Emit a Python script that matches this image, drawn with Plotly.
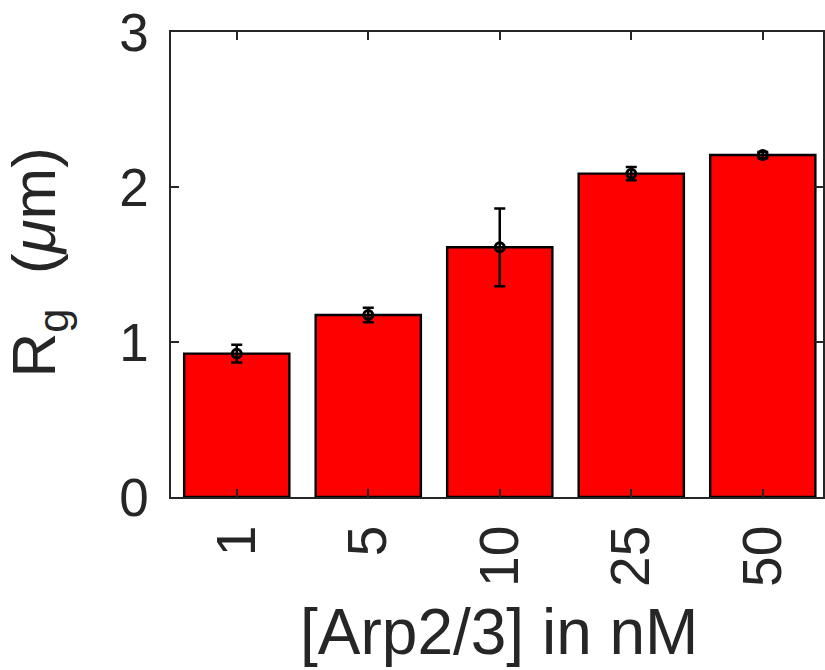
import plotly.graph_objects as go

# Arp2/3 concentration (nM) and radius of gyration (µm) with error
conc_labels = ["1", "5", "10", "25", "50"]
positions = [1, 2, 3, 4, 5]
rg_mean = [0.925, 1.174, 1.611, 2.086, 2.206]
rg_err = [0.058, 0.047, 0.251, 0.043, 0.02]

ink = "#262626"
font_family = "Liberation Sans, Arial, sans-serif"

fig = go.Figure()

fig.add_trace(go.Bar(
    x=positions,
    y=rg_mean,
    width=0.8,
    marker=dict(color="#ff0000", line=dict(color="black", width=2.4)),
    showlegend=False,
    hoverinfo="skip",
))

fig.add_trace(go.Scatter(
    x=positions,
    y=rg_mean,
    mode="markers",
    marker=dict(symbol="circle-open", size=9, color="black", line=dict(width=3, color="black")),
    error_y=dict(type="data", array=rg_err, visible=True, color="black", thickness=2.5, width=5.5),
    showlegend=False,
))

fig.update_layout(
    width=825,
    height=670,
    margin=dict(l=171, r=0, t=32, b=173),
    plot_bgcolor="white",
    paper_bgcolor="white",
    font=dict(family=font_family, color=ink),
    bargap=0.2,
)

fig.update_xaxes(
    range=[0.5, 5.458],
    tickmode="array",
    tickvals=positions,
    ticktext=conc_labels,
    tickangle=-90,
    tickfont=dict(size=55, color=ink, family=font_family),
    ticks="inside",
    ticklen=8,
    tickwidth=1.5,
    tickcolor=ink,
    showline=True,
    linecolor=ink,
    linewidth=1.5,
    mirror="ticks",
    showgrid=False,
    zeroline=False,
    ticklabelstandoff=5,
)

fig.update_yaxes(
    range=[0, 3],
    tickmode="array",
    tickvals=[0, 1, 2, 3],
    ticktext=["0", "1", "2", "3"],
    tickfont=dict(size=53, color=ink, family=font_family),
    ticks="inside",
    ticklen=8,
    tickwidth=1.5,
    tickcolor=ink,
    showline=True,
    linecolor=ink,
    linewidth=1.5,
    mirror="ticks",
    showgrid=False,
    zeroline=False,
    ticklabelstandoff=10,
)

plot_w = 825 - 171
plot_h = 670 - 32 - 173

# Axis titles
fig.add_annotation(
    text="[Arp2/3] in nM",
    xref="paper", yref="paper",
    x=(500 - 171) / plot_w,
    y=-(632 - 497) / plot_h,
    xanchor="center", yanchor="middle",
    showarrow=False,
    font=dict(size=64, color=ink, family=font_family),
)
fig.add_annotation(
    text="R<sub>g</sub>  (<i>μ</i>m)",
    xref="paper", yref="paper",
    x=(38 - 171) / plot_w,
    y=(497 - 262) / plot_h,
    xanchor="center", yanchor="middle",
    textangle=-90,
    showarrow=False,
    font=dict(size=62, color=ink, family=font_family),
)

fig.write_html("out.html")
